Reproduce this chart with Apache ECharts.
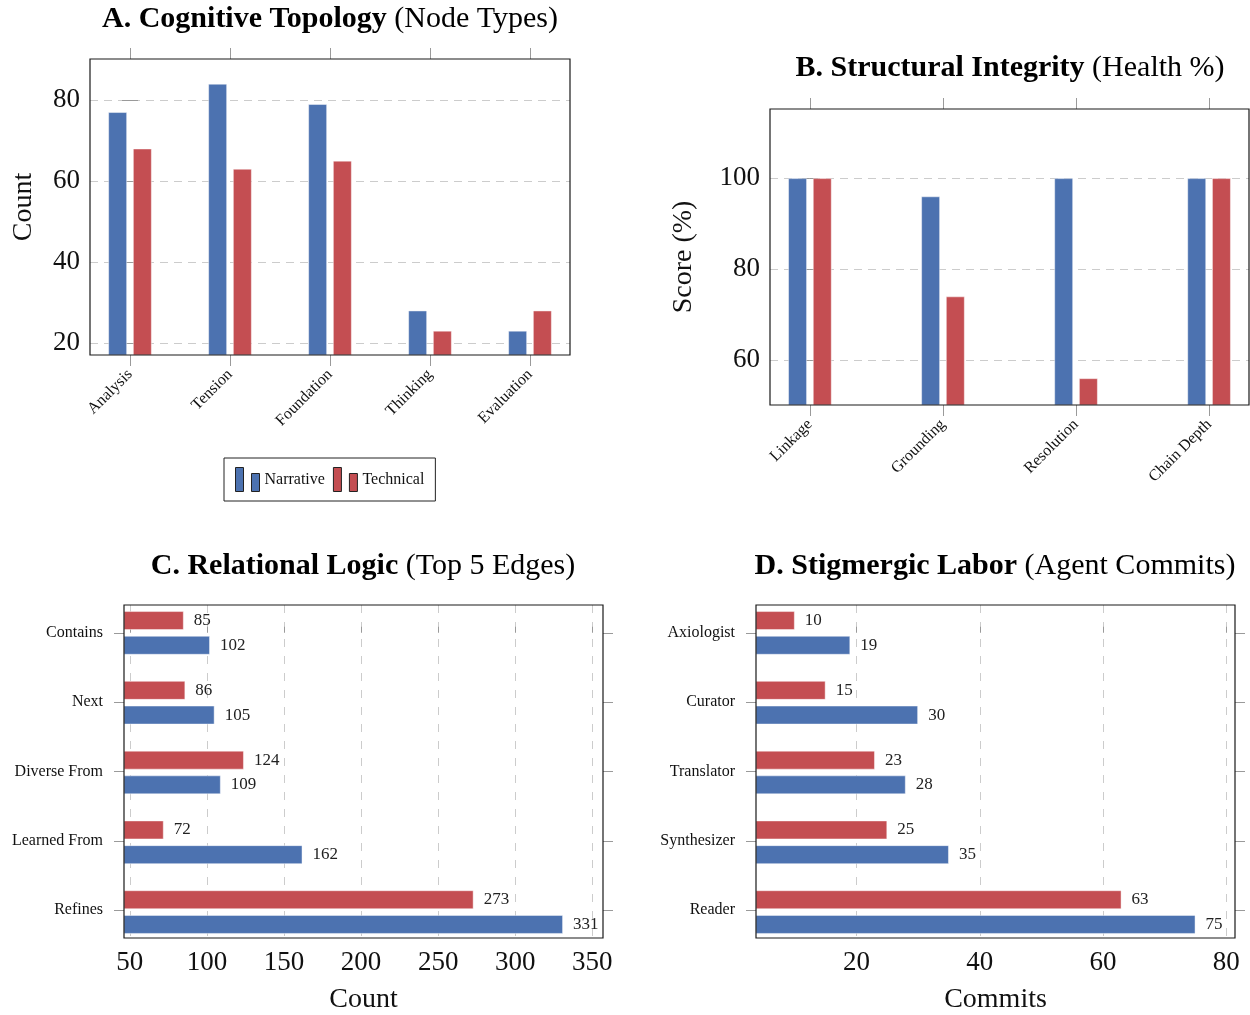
<!DOCTYPE html>
<html>
<head>
<meta charset="utf-8">
<title>Graph health overview</title>
<script src="https://cdn.jsdelivr.net/npm/echarts@6/dist/echarts.min.js"></script>
<style>
  html, body { margin: 0; padding: 0; background: #fff; }
  #chart { width: 1250px; height: 1015px; }
</style>
</head>
<body>
<div id="chart"></div>
<script>
// A. node types
const nodeTypes = ['Analysis', 'Tension', 'Foundation', 'Thinking', 'Evaluation'];
const nodeNarrative = [77, 84, 79, 28, 23];
const nodeTechnical = [68, 63, 65, 23, 28];
const countTicks = [20, 40, 60, 80];

// B. structural health
const healthChecks = ['Linkage', 'Grounding', 'Resolution', 'Chain Depth'];
const healthNarrative = [100, 96, 100, 100];
const healthTechnical = [100, 74, 56, 100];
const scoreTicks = [60, 80, 100];

// C. top edges
const edgeTypes = ['Contains', 'Next', 'Diverse From', 'Learned From', 'Refines'];
const edgeNarrative = [102, 105, 109, 162, 331];
const edgeTechnical = [85, 86, 124, 72, 273];
const edgeTicks = [50, 100, 150, 200, 250, 300, 350];

// D. agent commits
const agents = ['Axiologist', 'Curator', 'Translator', 'Synthesizer', 'Reader'];
const commitNarrative = [19, 30, 28, 35, 75];
const commitTechnical = [10, 15, 23, 25, 63];
const commitTicks = [20, 40, 60, 80];

const SERIF = '"Liberation Serif", "DejaVu Serif", serif';
const INK = '#111';
const TICK = '#9a9a9a';
const BLUE = '#4C72B0';
const RED = '#C44E52';

// plot frames: left, top, width, height
const frameA = [90, 59, 480, 296];
const frameB = [770, 109, 479, 296];
const frameC = [124, 605, 479, 335];
const frameD = [756, 605, 479, 335];

const slots = names => names.map((_, i) => i);

function frameGrid(f) {
  return {
    left: f[0], top: f[1], width: f[2], height: f[3],
    show: true, z: 10, backgroundColor: 'transparent',
    borderColor: '#1a1a1a', borderWidth: 1.2
  };
}

// horizontal panels: category bands centred on the frame's slot ticks
function bandGrid(f, n, pad) {
  const band = f[3] / (n - 1 + 2 * pad);
  return { left: f[0], width: f[2], top: f[1] + (pad - 0.5) * band, height: n * band };
}

function dashed(dash) {
  return { show: true, lineStyle: { color: '#cccccc', width: 1, type: dash } };
}

// value axis used to place category slots (so the frame can be padded like pgfplots)
function slotAxis(grid, names, pad, pos, opts) {
  const o = opts || {};
  return {
    type: 'value', gridIndex: grid, position: pos, inverse: !!o.inverse,
    min: -pad, max: names.length - 1 + pad,
    axisLine: { show: false },
    splitLine: { show: false },
    axisTick: {
      show: true, customValues: slots(names), inside: false, length: o.tickLen || 11,
      lineStyle: { color: TICK, width: 1 }
    },
    axisLabel: {
      show: !!o.labels, customValues: slots(names),
      formatter: v => names[Math.round(v)] || '',
      rotate: o.rotate || 0, margin: o.margin || 10,
      fontFamily: SERIF, fontSize: 16, color: INK
    }
  };
}

function valueAxis(grid, min, max, ticks, pos, opts) {
  const o = opts || {};
  return {
    type: 'value', gridIndex: grid, position: pos, min: min, max: max,
    name: o.name || '', nameLocation: 'middle', nameGap: o.nameGap || 40,
    nameTextStyle: { fontFamily: SERIF, fontSize: 28, color: INK },
    axisLine: { show: false },
    splitLine: o.split ? dashed(o.split) : { show: false },
    axisTick: {
      show: true, customValues: ticks, inside: true, length: o.tickLen || 8,
      lineStyle: { color: TICK, width: 1 }
    },
    axisLabel: {
      show: !!o.labels, customValues: ticks, margin: o.margin || 10,
      fontFamily: SERIF, fontSize: 27, color: INK
    }
  };
}

function bars(name, color, xi, yi, data, withLabel) {
  return {
    type: 'bar', name: name, xAxisIndex: xi, yAxisIndex: yi, data: data,
    barWidth: 19, barGap: '30%',
    itemStyle: { color: color, borderColor: 'rgba(255,255,255,0.45)', borderWidth: 1 },
    label: {
      show: withLabel, position: 'right', distance: 10,
      fontFamily: SERIF, fontSize: 17, color: '#222'
    },
    emphasis: { disabled: true }
  };
}

function title(x, y, bold, rest) {
  return {
    type: 'text', x: x, y: y, z: 20,
    style: {
      text: '{b|' + bold + '}{n| ' + rest + '}',
      rich: {
        b: { fontFamily: SERIF, fontSize: 30, fontWeight: 'bold', fill: '#000' },
        n: { fontFamily: SERIF, fontSize: 30, fill: '#000' }
      },
      align: 'center', verticalAlign: 'middle',
      textAlign: 'center', textVerticalAlign: 'middle'
    }
  };
}

const chart = echarts.init(document.getElementById('chart'));

chart.setOption({
  animation: false,
  backgroundColor: '#fff',
  graphic: [
    title(330, 19, 'A. Cognitive Topology', '(Node Types)'),
    title(1010, 68, 'B. Structural Integrity', '(Health %)'),
    title(363, 566, 'C. Relational Logic', '(Top 5 Edges)'),
    title(995, 566, 'D. Stigmergic Labor', '(Agent Commits)')
  ],
  legend: {
    data: ['Narrative', 'Technical'],
    left: 224, top: 458, padding: [9, 11],
    itemGap: 8, itemWidth: 24, itemHeight: 24,
    icon: 'path://M0,0H8V24H0Z M16,6H24V24H16Z',
    itemStyle: { borderColor: '#222', borderWidth: 1 },
    textStyle: { fontFamily: SERIF, fontSize: 16, color: INK },
    borderColor: '#222', borderWidth: 1, borderRadius: 0,
    selectedMode: false
  },
  grid: [
    frameGrid(frameA), frameGrid(frameB), frameGrid(frameC), frameGrid(frameD),
    bandGrid(frameC, edgeTypes.length, 0.4), bandGrid(frameD, agents.length, 0.4)
  ],
  xAxis: [
    slotAxis(0, nodeTypes, 0.4, 'bottom', { labels: true, rotate: 45, margin: 17 }),
    slotAxis(0, nodeTypes, 0.4, 'top'),
    slotAxis(1, healthChecks, 0.3, 'bottom', { labels: true, rotate: 45, margin: 17 }),
    slotAxis(1, healthChecks, 0.3, 'top'),
    valueAxis(2, 46.2, 356.9, edgeTicks, 'bottom',
      { labels: true, split: [8, 9], name: 'Count', nameGap: 48, margin: 11, tickLen: 6 }),
    { type: 'value', gridIndex: 4, min: 46.2, max: 356.9, show: false },
    valueAxis(3, 3.7, 81.4, commitTicks, 'bottom',
      { labels: true, split: [8, 9], name: 'Commits', nameGap: 48, margin: 11, tickLen: 6 }),
    { type: 'value', gridIndex: 5, min: 3.7, max: 81.4, show: false }
  ],
  yAxis: [
    valueAxis(0, 17.0, 90.1, countTicks, 'left',
      { labels: true, split: [8, 6], name: 'Count', nameGap: 52 }),
    valueAxis(0, 17.0, 90.1, countTicks, 'right'),
    valueAxis(1, 50.1, 115.2, scoreTicks, 'left',
      { labels: true, split: [8, 6], name: 'Score (%)', nameGap: 72 }),
    valueAxis(1, 50.1, 115.2, scoreTicks, 'right'),
    slotAxis(2, edgeTypes, 0.4, 'left', { labels: true, inverse: true, margin: 21, tickLen: 10 }),
    slotAxis(2, edgeTypes, 0.4, 'right', { inverse: true, tickLen: 10 }),
    { type: 'category', gridIndex: 4, data: edgeTypes, inverse: true, show: false },
    slotAxis(3, agents, 0.4, 'left', { labels: true, inverse: true, margin: 21, tickLen: 10 }),
    slotAxis(3, agents, 0.4, 'right', { inverse: true, tickLen: 10 }),
    { type: 'category', gridIndex: 5, data: agents, inverse: true, show: false }
  ],
  series: [
    bars('Narrative', BLUE, 0, 0, nodeNarrative.map((v, i) => [i, v]), false),
    bars('Technical', RED, 0, 0, nodeTechnical.map((v, i) => [i, v]), false),
    bars('Narrative', BLUE, 2, 2, healthNarrative.map((v, i) => [i, v]), false),
    bars('Technical', RED, 2, 2, healthTechnical.map((v, i) => [i, v]), false),
    bars('Technical', RED, 5, 6, edgeTechnical, true),
    bars('Narrative', BLUE, 5, 6, edgeNarrative, true),
    bars('Technical', RED, 7, 9, commitTechnical, true),
    bars('Narrative', BLUE, 7, 9, commitNarrative, true)
  ]
});
</script>
</body>
</html>
